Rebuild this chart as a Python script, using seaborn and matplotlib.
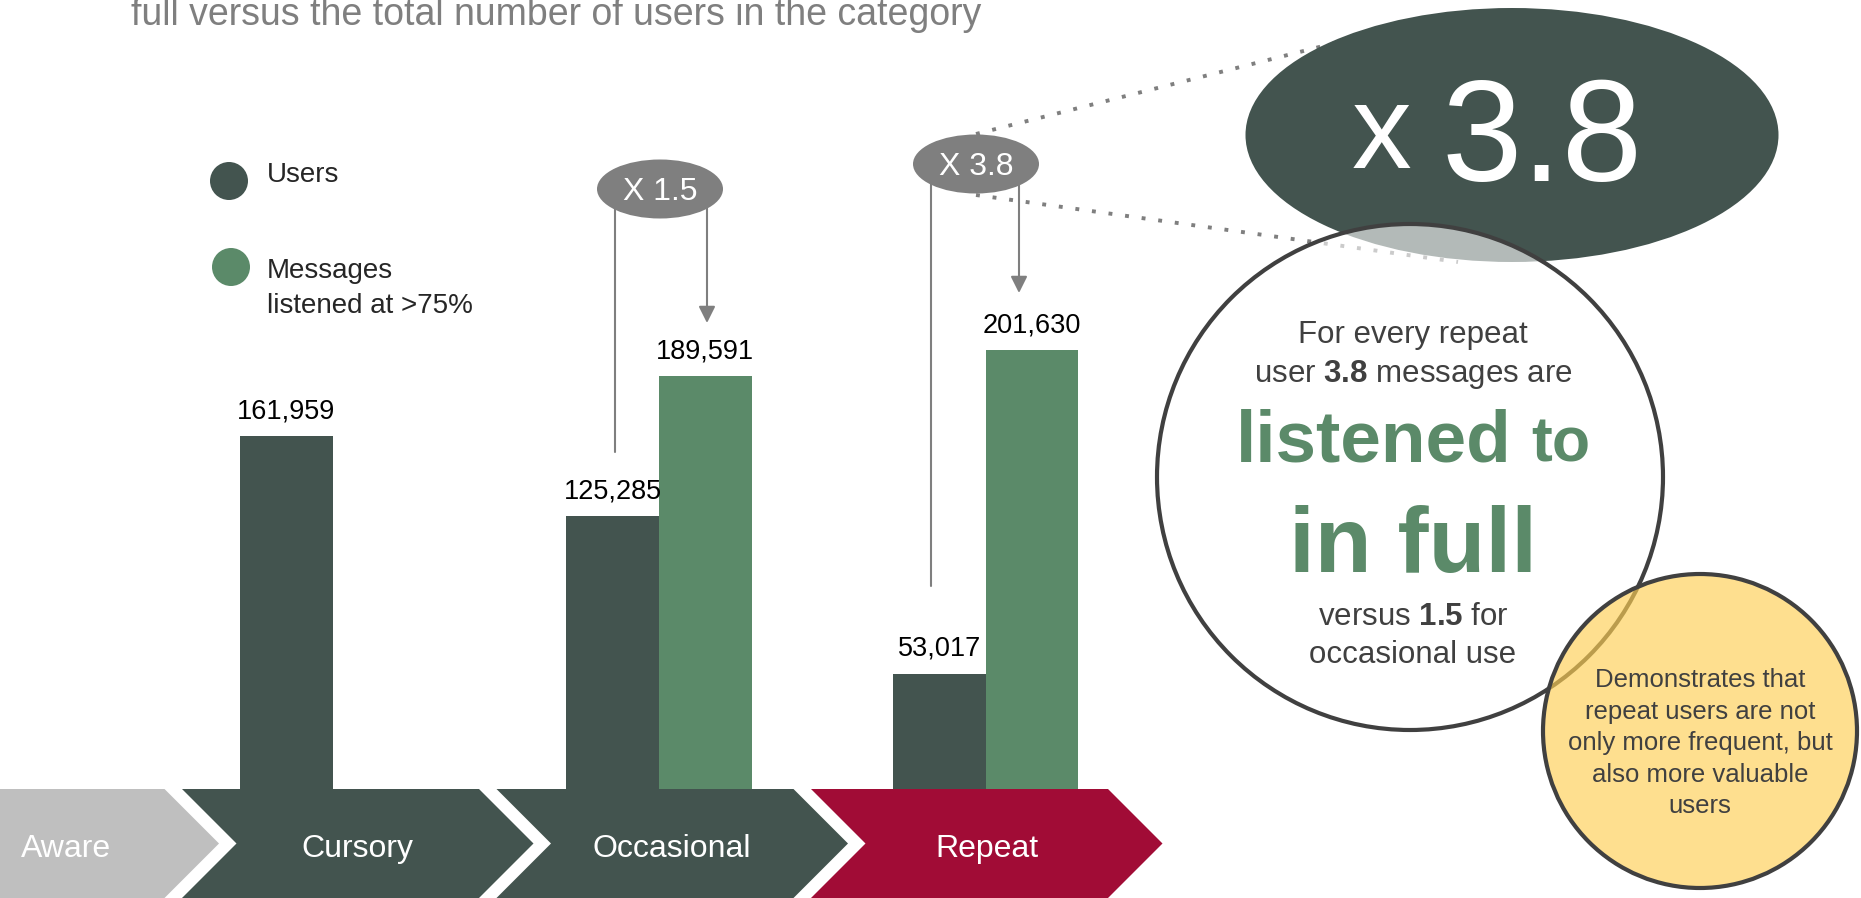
import numpy as np
import pandas as pd
import matplotlib
matplotlib.use("Agg")
import matplotlib.pyplot as plt
from matplotlib.patches import Ellipse, Circle, Polygon
import seaborn as sns

# ---------------------------------------------------------------------------
# data
# ---------------------------------------------------------------------------
stages = ["Cursory", "Occasional", "Repeat"]
users = [161959, 125285, 53017]
messages = [np.nan, 189591, 201630]
series_names = ["Users", "Messages listened at >75%"]

funnel_steps = ["Aware", "Cursory", "Occasional", "Repeat"]
ratio_occasional = 1.5
ratio_repeat = 3.8

title_line = "full versus the total number of users in the category"
legend_lines = [["Users"], ["Messages", "listened at >75%"]]
note_lines = ["Demonstrates that", "repeat users are not", "only more frequent, but",
              "also more valuable", "users"]

# colours
DARK = "#43544F"
GREEN = "#5B8A69"
RED = "#A10C36"
LIGHT = "#BFBFBF"
GREY = "#7F7F7F"
TEXT = "#404040"
YELLOW = "#FECF53"

W, H = 1861, 898

sns.set_style("white")
plt.rcParams["font.family"] = ["Liberation Sans", "DejaVu Sans"]
plt.rcParams["mathtext.fontset"] = "custom"
plt.rcParams["mathtext.rm"] = "Liberation Sans"
plt.rcParams["mathtext.bf"] = "Liberation Sans:bold"

fig = plt.figure(figsize=(W / 100, H / 100), dpi=100)
fig.patch.set_facecolor("white")

# decoration layer, in pixel coordinates (origin top-left)
bg = fig.add_axes([0, 0, 1, 1])
bg.set_xlim(0, W)
bg.set_ylim(H, 0)
bg.axis("off")

# bar layer
ax = fig.add_axes([0, 0, 1, 1])
df = pd.DataFrame({
    "stage": stages * 2,
    "series": [series_names[0]] * len(stages) + [series_names[1]] * len(stages),
    "value": users + messages,
})
sns.barplot(data=df, x="stage", y="value", hue="series", order=stages,
            hue_order=series_names, palette=[DARK, GREEN], saturation=1,
            width=0.567, errorbar=None, linewidth=0, legend=False, ax=ax)
ax.set_xlim(-1.0184, 4.6814)
ax.set_ylim(-50080, 362506)
ax.axis("off")

for p in ax.patches:
    h = p.get_height()
    if np.isfinite(h) and h > 0:
        ax.annotate(f"{h:,.0f}", (p.get_x() + p.get_width() / 2, h),
                    xytext=(0, 12.7), textcoords="offset points",
                    ha="center", va="baseline", fontsize=19.5, color="black")

# title (second line of a cropped subtitle)
bg.text(131, 25, title_line, color=GREY, fontsize=27, ha="left", va="baseline")

# legend
bg.add_patch(Circle((229, 181), 19, color=DARK, lw=0))
bg.add_patch(Circle((231, 267), 19, color=GREEN, lw=0))
bg.text(267, 182, legend_lines[0][0], fontsize=20, va="baseline")
bg.text(267, 278, legend_lines[1][0], fontsize=20, va="baseline")
bg.text(267, 313, legend_lines[1][1], fontsize=20, va="baseline")

# funnel chevrons
top, bot = 789, 898
mid = (top + bot) / 2
tip = (bot - top) / 2
chev_colors = [LIGHT, DARK, DARK, RED]
for i, (name, col) in enumerate(zip(funnel_steps, chev_colors)):
    left = 182 + (i - 1) * 314.5
    right = left + 297
    if i == 0:
        pts = [(-20, top), (right, top), (right + tip, mid), (right, bot), (-20, bot)]
        bg.text(21, 857, name, color="white", fontsize=23, ha="left", va="baseline")
    else:
        pts = [(left, top), (right, top), (right + tip, mid), (right, bot),
               (left, bot), (left + tip, mid)]
        bg.text((left + right) / 2 + 27, 857, name, color="white", fontsize=23,
                ha="center", va="baseline")
    bg.add_patch(Polygon(pts, closed=True, color=col, lw=0, zorder=1))

# ratio brackets
def bracket(cx, cy, x_from, y_from_end, x_to, y_arrow, label):
    bg.plot([x_from, x_from], [cy, y_from_end], color=GREY, lw=1.5, zorder=2)
    bg.annotate("", xy=(x_to, y_arrow), xytext=(x_to, cy),
                arrowprops=dict(arrowstyle="-|>", color=GREY, lw=1.5,
                                mutation_scale=25, shrinkA=0, shrinkB=0),
                zorder=2)
    bg.add_patch(Ellipse((cx, cy), 126, 59, color=GREY, lw=0, zorder=3))
    bg.text(cx, cy + 11, label, color="white", fontsize=23, ha="center",
            va="baseline", zorder=4)

bracket(660, 189, 615, 452, 707, 323, f"X {ratio_occasional}")
bracket(976, 164, 931, 586, 1019, 293, f"X {ratio_repeat}")

# dotted zoom lines to the big bubble
dot_kw = dict(color=GREY, lw=2.8, linestyle=(0, (1, 3.3)), dash_capstyle="butt",
              zorder=3)
bg.plot([976, 1335], [134, 43], **dot_kw)
bg.plot([976, 1458], [195, 262], **dot_kw)

# big multiplier bubble
bg.add_patch(Ellipse((1512, 135), 533, 254, color=DARK, lw=0, zorder=4))
bg.text(1352, 168, "x", color="white", fontsize=86, ha="left", va="baseline",
        zorder=4.5)
bg.text(1441, 181, f"{ratio_repeat}", color="white", fontsize=104, ha="left",
        va="baseline", zorder=4.5)

# main callout circle
bg.add_patch(Circle((1410, 477), 253, facecolor=(1, 1, 1, 0.6), edgecolor=TEXT,
                    lw=3, zorder=5))
cx = 1413
bg.text(cx, 343, "For every repeat", color=TEXT, fontsize=22.5, ha="center",
        va="baseline", zorder=7)
bg.text(cx, 382, "user $\\mathbf{" + f"{ratio_repeat}" + "}$ messages are",
        color=TEXT, fontsize=22.5, ha="center", va="baseline", zorder=7)
bg.text(1512, 462, "listened", color=GREEN, fontsize=52.5, fontweight="bold",
        ha="right", va="baseline", zorder=7)
bg.text(1531, 462, "to", color=GREEN, fontsize=45, fontweight="bold",
        ha="left", va="baseline", zorder=7)
bg.text(cx, 572, "in full", color=GREEN, fontsize=67, fontweight="bold",
        ha="center", va="baseline", zorder=7)
bg.text(cx, 625, "versus $\\mathbf{" + f"{ratio_occasional}" + "}$ for",
        color=TEXT, fontsize=22.5, ha="center", va="baseline", zorder=7)
bg.text(cx, 663, "occasional use", color=TEXT, fontsize=22.5, ha="center",
        va="baseline", zorder=7)

# yellow note
bg.add_patch(Circle((1700, 731), 157, facecolor=YELLOW, alpha=None,
                    edgecolor=TEXT, lw=3, zorder=6))
bg.patches[-1].set_facecolor((0xFE / 255, 0xCF / 255, 0x53 / 255, 0.65))
for k, line in enumerate(note_lines):
    bg.text(1700, 687 + k * 31.5, line, color=TEXT, fontsize=18.5, ha="center",
            va="baseline", zorder=7)

fig.savefig("out.png", dpi=100)
